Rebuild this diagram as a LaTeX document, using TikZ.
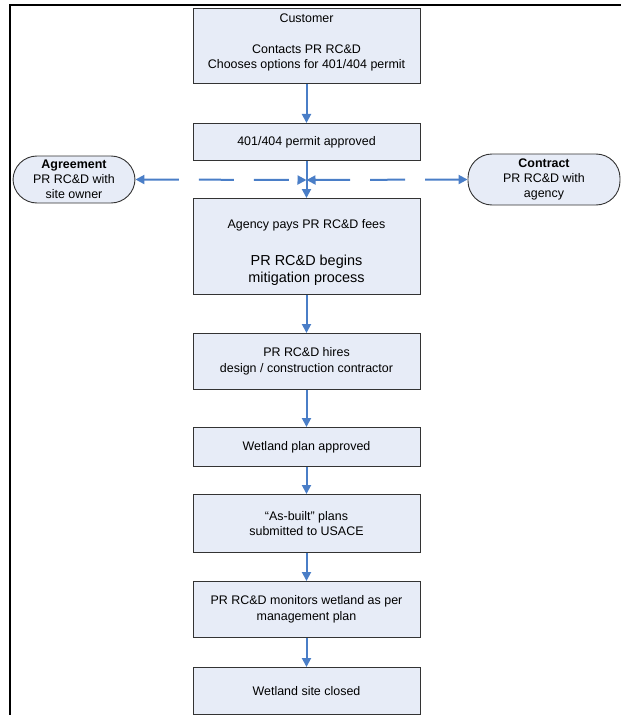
\documentclass[tikz,border=0pt]{standalone}
\usepackage{fontspec}
\setmainfont{Liberation Sans}
\usetikzlibrary{arrows.meta}
\definecolor{boxfill}{RGB}{231,236,247}
\definecolor{flowblue}{RGB}{74,126,199}
\newcommand\bigline{\fontsize{14.5}{17}\selectfont}
\tikzset{
	stepbox/.style={draw=black!80, fill=boxfill, line width=0.9bp, minimum width=227bp,
			align=center, anchor=north, inner sep=2bp, font=\fontsize{12.5}{15.5}\selectfont},
	sidebox/.style={draw=black!80, fill=boxfill, line width=0.9bp, rounded corners=24bp,
			align=center, inner sep=2bp, font=\fontsize{12.5}{15}\selectfont},
	flow/.style={draw=flowblue, line width=2bp, -{Triangle[length=9bp,width=9bp]}},
	link/.style={flow, {Triangle[length=9bp,width=9bp]}-{Triangle[length=9bp,width=9bp]},
			dash pattern=on 35bp off 20bp},
}
\begin{document}
\begin{tikzpicture}[x=1bp,y=-1bp]
	\useasboundingbox (0,0) rectangle (621,715);

	% Frame
	\draw [line width=2.5bp] (10,715) -- (10,5) -- (621,5);

	% Main steps
	\node [stepbox, minimum height=75bp] (cust) at (306.5,8)
		{Customer\\[15.5bp]Contacts PR RC\&D\\Chooses options for 401/404 permit\rule[-9bp]{0pt}{0pt}};
	\node [stepbox, minimum height=37bp] (permit) at (306.5,123) {401/404 permit approved};
	\node [stepbox, minimum height=96bp] (fees) at (306.5,198)
		{\rule{0pt}{21bp}Agency pays PR RC\&D fees\\[22bp]\bigline PR RC\&D begins\\[1.5bp]\bigline mitigation process};
	\node [stepbox, minimum height=56bp] (hire) at (306.5,333)
		{PR RC\&D hires\\design / construction contractor};
	\node [stepbox, minimum height=39bp] (plan) at (306.5,427) {Wetland plan approved};
	\node [stepbox, minimum height=58bp] (asbuilt) at (306.5,494)
		{“As-built” plans\\submitted to USACE};
	\node [stepbox, minimum height=56bp] (monitor) at (306.5,581)
		{PR RC\&D monitors wetland as per\\management plan};
	\node [stepbox, minimum height=47bp] (closed) at (306.5,667) {Wetland site closed};

	% Side agreements
	\node [sidebox, minimum width=122bp, minimum height=47bp] (agree) at (74,179.5)
		{\textbf{Agreement}\\PR RC\&D with\\site owner};
	\node [sidebox, minimum width=152bp, minimum height=51bp] (contr) at (544,179.5)
		{\textbf{Contract}\\PR RC\&D with\\agency};
	\coordinate (mid) at (306.5,180);

	\foreach \a/\b in {cust/permit,permit/fees,fees/hire,hire/plan,plan/asbuilt,asbuilt/monitor,monitor/closed}{
			\draw [flow] (\a.south) -- (\b.north);
		}
	\draw [link] (agree.east) -- (mid);
	\draw [link] (mid) -- (contr.west);
\end{tikzpicture}
\end{document}
